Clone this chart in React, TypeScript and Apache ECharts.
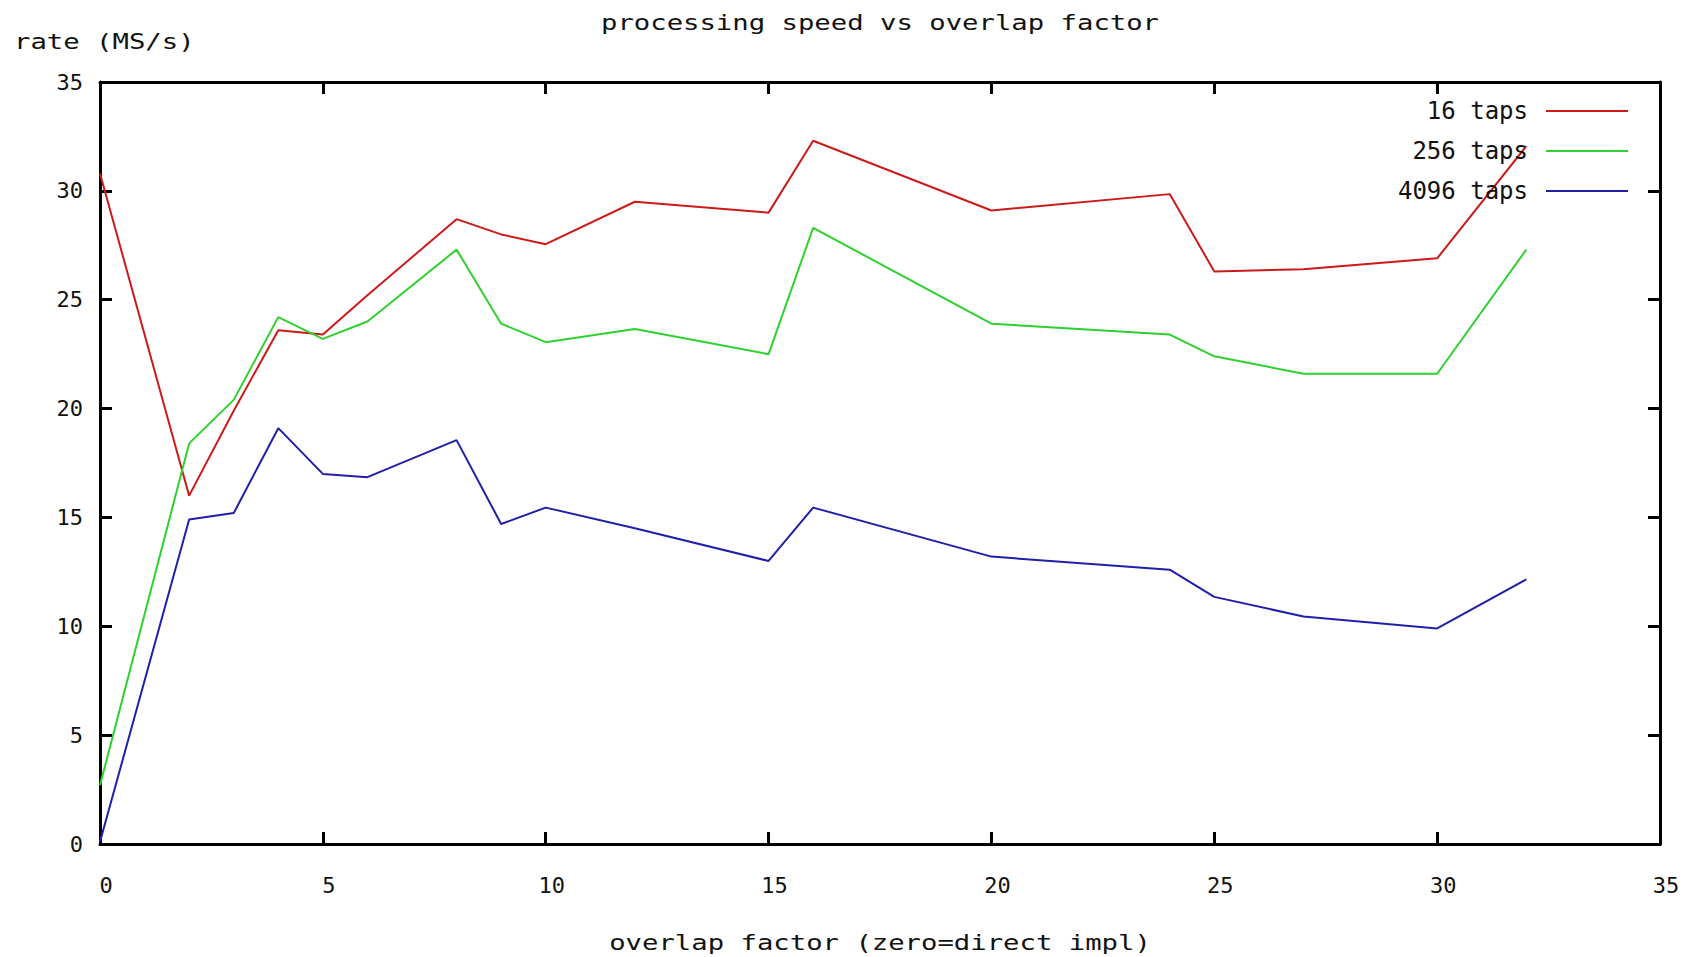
import React, { useEffect, useRef } from 'react';
import * as echarts from 'echarts';

const overlapFactors = [0, 2, 3, 4, 5, 6, 8, 9, 10, 12, 15, 16, 20, 24, 25, 27, 30, 32];
const rate16taps = [30.8, 16.0, 19.9, 23.6, 23.4, 25.2, 28.7, 28.0, 27.55, 29.5, 29.0, 32.3, 29.1, 29.85, 26.3, 26.4, 26.9, 32.05];
const rate256taps = [2.7, 18.4, 20.4, 24.2, 23.2, 24.0, 27.3, 23.9, 23.05, 23.65, 22.5, 28.3, 23.9, 23.4, 22.4, 21.6, 21.6, 27.3];
const rate4096taps = [0.1, 14.9, 15.2, 19.1, 17.0, 16.85, 18.55, 14.7, 15.45, 14.5, 13.0, 15.45, 13.2, 12.6, 11.35, 10.45, 9.9, 12.15];
const seriesNames = ['16 taps', '256 taps', '4096 taps'];
const seriesColors = ['#cc1a1a', '#2ed12e', '#1f1fa8'];

const FONT = 'DejaVu Sans Mono';
const FS = 22;
const STRETCH = 1.24;

export default function App() {
  const ref = useRef<HTMLDivElement>(null);
  useEffect(() => {
    document.body.style.margin = '0';
    if (!ref.current) return;
    const chart = echarts.init(ref.current, null, { renderer: 'svg' });
    const allRates = [rate16taps, rate256taps, rate4096taps];
    const series = allRates.map((vals, i) => ({
      name: seriesNames[i],
      type: 'line',
      xAxisIndex: 0,
      yAxisIndex: 0,
      showSymbol: false,
      symbol: 'none',
      data: overlapFactors.map((x, j) => [x, vals[j]]),
      lineStyle: { color: seriesColors[i], width: 2 },
      itemStyle: { color: seriesColors[i] },
    }));
    const legendRows = [99, 139, 179];
    const legends = seriesNames.map((n, i) => ({
      data: [n],
      right: 65,
      top: legendRows[i],
      align: 'right',
      orient: 'vertical',
      padding: 0,
      icon: 'rect',
      itemWidth: 82,
      itemHeight: 2,
      selectedMode: false,
      textStyle: { fontFamily: FONT, fontSize: 24, color: '#111', lineHeight: 24, padding: [0, 13, 0, 0] },
    }));
    const tickStyle = { show: true, inside: true, length: 12, lineStyle: { color: '#000', width: 3 } };
    chart.setOption({
      animation: false,
      backgroundColor: '#fff',
      grid: { left: 100, right: 33, top: 82, bottom: 113, show: false },
      legend: legends,
      xAxis: [
        {
          type: 'value', min: 0, max: 35, interval: 5, position: 'bottom',
          axisLine: { show: true, onZero: false, lineStyle: { color: '#000', width: 3 } },
          axisTick: tickStyle,
          splitLine: { show: false },
          axisLabel: { fontFamily: FONT, fontSize: FS, color: '#111', margin: 30, padding: [0, 0, 0, 12] },
        },
        {
          type: 'value', min: 0, max: 35, interval: 5, position: 'top',
          axisLine: { show: true, onZero: false, lineStyle: { color: '#000', width: 3 } },
          axisTick: tickStyle,
          splitLine: { show: false },
          axisLabel: { show: false },
        },
      ],
      yAxis: [
        {
          type: 'value', min: 0, max: 35, interval: 5, position: 'left',
          axisLine: { show: true, onZero: false, lineStyle: { color: '#000', width: 3 } },
          axisTick: tickStyle,
          splitLine: { show: false },
          axisLabel: { fontFamily: FONT, fontSize: FS, color: '#111', margin: 17 },
        },
        {
          type: 'value', min: 0, max: 35, interval: 5, position: 'right',
          axisLine: { show: true, onZero: false, lineStyle: { color: '#000', width: 3 } },
          axisTick: tickStyle,
          splitLine: { show: false },
          axisLabel: { show: false },
        },
      ],
      graphic: [
        {
          type: 'text', x: 880, y: 22, scaleX: STRETCH,
          style: { text: 'processing speed vs overlap factor', fontFamily: FONT, fontSize: FS, fill: '#111', textAlign: 'center', textVerticalAlign: 'middle' },
        },
        {
          type: 'text', x: 14, y: 41, scaleX: STRETCH,
          style: { text: 'rate (MS/s)', fontFamily: FONT, fontSize: FS, fill: '#111', textAlign: 'left', textVerticalAlign: 'middle' },
        },
        {
          type: 'text', x: 880, y: 942, scaleX: STRETCH,
          style: { text: 'overlap factor (zero=direct impl)', fontFamily: FONT, fontSize: FS, fill: '#111', textAlign: 'center', textVerticalAlign: 'middle' },
        },
      ],
      series,
    });
    return () => chart.dispose();
  }, []);
  return <div ref={ref} style={{ width: 1693, height: 957 }} />;
}
